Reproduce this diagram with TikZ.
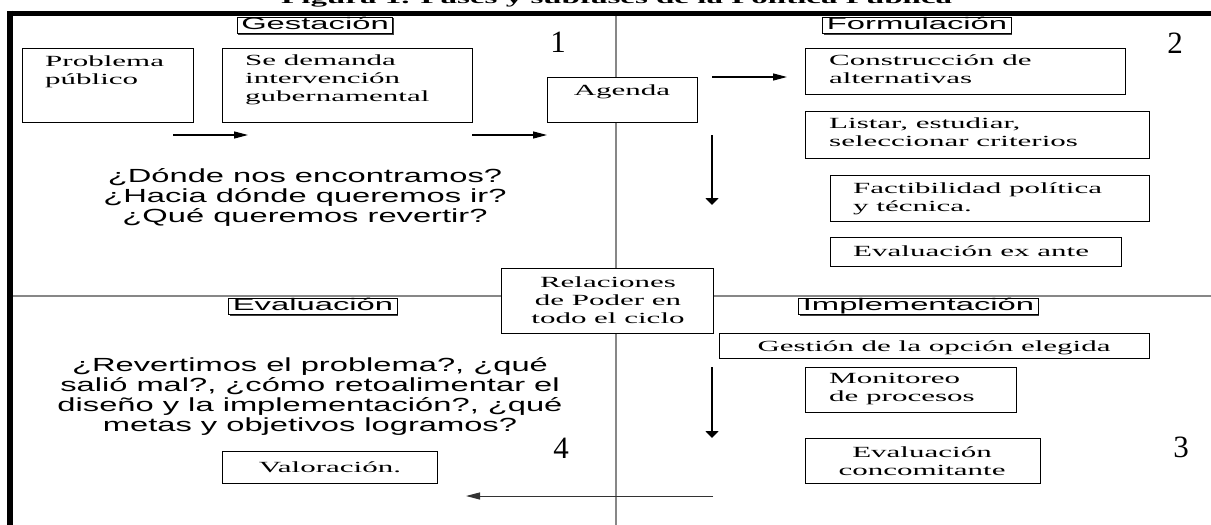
\documentclass[tikz,border=0pt]{standalone}
\usepackage{fontspec}
\setmainfont{Liberation Serif}
\newfontfamily\rmw[FakeStretch=2.0]{Liberation Serif}
\newfontfamily\sfw[FakeStretch=1.95]{Liberation Sans}
\newfontfamily\sfq[FakeStretch=1.72]{Liberation Sans}
\usetikzlibrary{arrows.meta,calc,shadows}
\newcommand\txl[1]{\vtop{\lineskiplimit=-50pt\lineskip=0pt\halign{##\hfil\cr#1\crcr}}}
\newcommand\txc[1]{\vtop{\lineskiplimit=-50pt\lineskip=0pt\halign{\hfil##\hfil\cr#1\crcr}}}
\definecolor{gridgray}{RGB}{135,135,135}
\begin{document}
\begin{tikzpicture}[x=1pt,y=-1pt,
  box/.style={draw=black, line width=1.3pt, fill=white, rectangle, inner sep=0pt, anchor=north west},
  stxt/.style={inner sep=0pt, font=\rmw\fontsize{15.5}{18}\selectfont},
  qtxt/.style={inner sep=0pt, font=\sfq\fontsize{19}{20}\selectfont},
  phase/.style={draw=black, line width=0.9pt, fill=white, inner xsep=4pt, inner ysep=0.8pt,
    text height=11.8pt, text depth=3.2pt, font=\sfw\fontsize{16.8}{18}\selectfont,
    drop shadow={shadow xshift=1.1pt, shadow yshift=-1.1pt, fill=black!75, opacity=1}},
  num/.style={inner sep=0pt, font=\fontsize{31}{31}\selectfont},
  titletxt/.style={inner sep=0pt, font=\rmw\bfseries\fontsize{16.5}{18}\selectfont},
  harrow/.style={line width=1.3pt, -{Triangle[length=14pt,width=7pt]}},
  varrow/.style={line width=2pt, -{Triangle[length=7pt,width=13pt]}},
  barrow/.style={line width=1pt, draw=black!80, -{Triangle[length=14pt,width=7pt]}},
  gridline/.style={draw=gridgray, line width=1.2pt}
]
\useasboundingbox (0,0) rectangle (1211,525);
\fill[white] (0,0) rectangle (1211,525);

% clipped title (cut off at the top edge, as in the reference)
\begin{scope}
\clip (0,0) rectangle (1211,11);
\node[titletxt, anchor=base west] (title) at (281,3.5) {Figura 1. Fases y subfases de la Política Pública};
\end{scope}

% quadrant lines
\draw[gridline] (616,16) -- (616,525);
\draw[gridline] (13,296) -- (1211,296);

% frame
\draw[line width=5pt] (7.5,13) -- (1211,13);
\draw[line width=5.5pt] (10,10.5) -- (10,525);

% phase labels
\node[phase] (gestacion) at (315,25.5) {Gestación};
\node[phase] (formulacion) at (917,25.5) {Formulación};
\node[phase] (evaluacion) at (313,306.5) {Evaluación};
\node[phase] (implementacion) at (918.5,306.5) {Implementación};

% numbers
\node[num] (n1) at (558,42) {1};
\node[num] (n2) at (1175,43) {2};
\node[num] (n3) at (1181,447) {3};
\node[num] (n4) at (561,448) {4};

% boxes
\node[box, minimum width=171pt, minimum height=74pt] (prob) at (22,48) {};
\node[box, minimum width=250pt, minimum height=74pt] (dem) at (222,48) {};
\node[box, minimum width=150pt, minimum height=45pt] (agenda) at (547,77) {};
\node[box, minimum width=320pt, minimum height=46pt] (constr) at (805,48) {};
\node[box, minimum width=344pt, minimum height=47pt] (listar) at (805,111) {};
\node[box, minimum width=319pt, minimum height=46pt] (fact) at (830,175) {};
\node[box, minimum width=291pt, minimum height=29pt] (exante) at (830,237) {};
\node[box, minimum width=212pt, minimum height=65pt] (rel) at (501,268) {};
\node[box, minimum width=430pt, minimum height=25pt] (gest) at (719,333) {};
\node[box, minimum width=211pt, minimum height=45pt] (monit) at (805,367) {};
\node[box, minimum width=235pt, minimum height=45pt] (concom) at (805,438) {};
\node[box, minimum width=215pt, minimum height=32pt] (valor) at (222,451) {};

% box texts
\node[stxt, anchor=base west] (probt) at (45,66) {\txl{Problema\cr público}};
\node[stxt, anchor=base west] (demt) at (245,65) {\txl{Se demanda\cr intervención\cr gubernamental}};
\node[stxt, anchor=base] (agt) at (622,95) {Agenda};
\node[stxt, anchor=base west] (constrt) at (829,65) {\txl{Construcción de\cr alternativas}};
\node[stxt, anchor=base west] (listt) at (829,128) {\txl{Listar, estudiar,\cr seleccionar criterios}};
\node[stxt, anchor=base west] (factt) at (853,193) {\txl{Factibilidad política\cr y técnica.}};
\node[stxt, anchor=base west] (exantet) at (853,256) {Evaluación ex ante};
\node[stxt, anchor=base] (relt) at (608,287) {\txc{Relaciones\cr de Poder en\cr todo el ciclo}};
\node[stxt, anchor=base] (gestt) at (934,351) {Gestión de la opción elegida};
\node[stxt, anchor=base west] (monitt) at (829,383) {\txl{Monitoreo\cr de procesos}};
\node[stxt, anchor=base] (concomt) at (922,457) {\txc{Evaluación\cr concomitante}};
\node[stxt, anchor=base] (valort) at (330,472) {Valoración.};

% questions
\node[qtxt, anchor=base] (q1) at (305,182) {\txc{¿Dónde nos encontramos?\cr ¿Hacia dónde queremos ir?\cr ¿Qué queremos revertir?}};
\node[qtxt, anchor=base] (q2) at (310,371) {\txc{¿Revertimos el problema?, ¿qué\cr salió mal?, ¿cómo retoalimentar el\cr diseño y la implementación?, ¿qué\cr metas y objetivos logramos?}};

% arrow end points
\coordinate (a1s) at (173,135); \coordinate (a1e) at (248,135);
\coordinate (a2s) at (472,135); \coordinate (a2e) at (547,135);
\coordinate (a3s) at (712,77);  \coordinate (a3e) at (787,77);
\coordinate (a4s) at (712,135); \coordinate (a4e) at (712,205);
\coordinate (a5s) at (712,367); \coordinate (a5e) at (712,438);
\coordinate (a6s) at (713,496); \coordinate (a6e) at (466,496);

\draw[harrow] (a1s) -- (a1e);
\draw[harrow] (a2s) -- (a2e);
\draw[harrow] (a3s) -- (a3e);
\draw[varrow] (a4s) -- (a4e);
\draw[varrow] (a5s) -- (a5e);
\draw[barrow] (a6s) -- (a6e);
\end{tikzpicture}
\end{document}
